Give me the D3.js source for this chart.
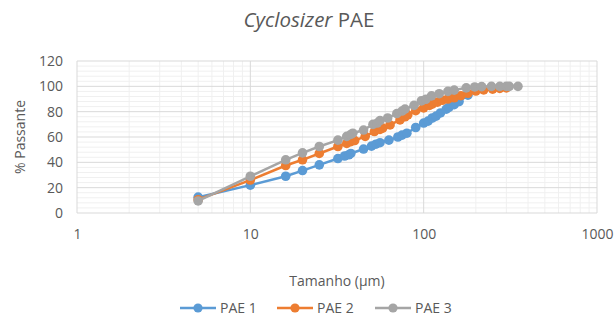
<!DOCTYPE html>
<html>
<head>
<meta charset="utf-8">
<script src="https://cdn.jsdelivr.net/npm/d3@7"></script>
<style>
  body { margin: 0; background: #fff; }
  text { font-family: "Open Sans", "Noto Sans", sans-serif; fill: #595959; }
</style>
</head>
<body>
<svg id="chart"></svg>
<script>
// Series data (size in µm, % passing)
const pae1Size = [5, 10, 16, 20, 25, 32, 35, 37, 38, 45, 50, 53, 56, 63, 71, 75, 80, 90, 100, 106, 112, 118, 125, 135, 140, 150, 160, 180];
const pae1Pass = [12.5, 22, 29, 33.5, 38, 43, 45, 46, 47, 50.5, 52.8, 54.3, 55.5, 57.5, 60, 61.5, 63, 67.5, 71, 72.5, 75, 76.5, 79, 82, 83.5, 85.5, 88, 93];

const pae2Size = [5, 10, 16, 20, 25, 32, 36, 38, 40, 46, 52, 56, 58, 64, 73, 78, 81, 90, 100, 108, 112, 120, 128, 138, 150, 164, 180, 200, 222, 250, 275, 300];
const pae2Pass = [10.5, 26, 37.5, 42, 47, 52.5, 55, 56.3, 57.2, 60.5, 64.3, 66, 67, 69.5, 73.5, 76, 77.5, 80.8, 83, 85, 86, 87.5, 89, 90, 91, 92.6, 94.5, 96.3, 97.2, 97.8, 98.4, 98.8];

const pae3Size = [5, 10, 16, 20, 25, 32, 36, 38, 39, 45, 51, 54, 56, 62, 70, 75, 78, 88, 97, 103, 111, 123, 138, 150, 176, 197, 216, 246, 275, 300, 312, 350];
const pae3Pass = [9.5, 29, 42, 47.5, 52.5, 57.5, 60.5, 62, 63, 65.5, 70, 71, 73, 75, 78.5, 80.5, 82, 85, 88.5, 89.8, 92.5, 94.2, 96, 97, 98.8, 99.5, 99.8, 100, 100, 100, 100, 100];

const seriesNames = ["PAE 1", "PAE 2", "PAE 3"];
const seriesColors = ["#5B9BD5", "#ED7D31", "#A5A5A5"];
const xTicks = [1, 10, 100, 1000];
const yTicks = [0, 20, 40, 60, 80, 100, 120];

const series = [
  { name: seriesNames[0], color: seriesColors[0], pts: pae1Size.map((s, i) => [s, pae1Pass[i]]) },
  { name: seriesNames[1], color: seriesColors[1], pts: pae2Size.map((s, i) => [s, pae2Pass[i]]) },
  { name: seriesNames[2], color: seriesColors[2], pts: pae3Size.map((s, i) => [s, pae3Pass[i]]) }
];

const W = 616, H = 318;
const plot = { left: 77, right: 597, top: 61, bottom: 213 };

const svg = d3.select("#chart").attr("width", W).attr("height", H);

const x = d3.scaleLog().domain([1, 1000]).range([plot.left, plot.right]);
const y = d3.scaleLinear().domain([0, 120]).range([plot.bottom, plot.top]);

// minor gridlines
const minorX = [];
for (let d = 1; d < 1000; d *= 10) for (let k = 2; k <= 9; k++) minorX.push(d * k);
const minorY = d3.range(0, 121, 4).filter(v => v % 20 !== 0);

const grid = svg.append("g");
grid.selectAll("line.mx").data(minorX).enter().append("line")
  .attr("x1", d => x(d)).attr("x2", d => x(d))
  .attr("y1", plot.top).attr("y2", plot.bottom)
  .attr("stroke", "#f0f0f0").attr("stroke-width", 1);
grid.selectAll("line.my").data(minorY).enter().append("line")
  .attr("x1", plot.left).attr("x2", plot.right)
  .attr("y1", d => y(d)).attr("y2", d => y(d))
  .attr("stroke", "#f0f0f0").attr("stroke-width", 1);
grid.selectAll("line.vx").data(xTicks).enter().append("line")
  .attr("x1", d => x(d)).attr("x2", d => x(d))
  .attr("y1", plot.top).attr("y2", plot.bottom)
  .attr("stroke", "#d9d9d9").attr("stroke-width", 1);
grid.selectAll("line.hy").data(yTicks).enter().append("line")
  .attr("x1", plot.left).attr("x2", plot.right)
  .attr("y1", d => y(d)).attr("y2", d => y(d))
  .attr("stroke", "#d9d9d9").attr("stroke-width", 1);

// axes (labels only)
const yAxis = svg.append("g")
  .attr("transform", `translate(${plot.left},0)`)
  .call(d3.axisLeft(y).tickValues(yTicks).tickSize(0).tickPadding(14));
yAxis.select(".domain").remove();
yAxis.selectAll("text").style("font-size", "14px").attr("fill", "#595959");

const xAxis = svg.append("g")
  .attr("transform", `translate(0,${plot.bottom})`)
  .call(d3.axisBottom(x).tickValues(xTicks).tickFormat(d3.format("d")).tickSize(0).tickPadding(16));
xAxis.select(".domain").remove();
xAxis.selectAll("text").style("font-size", "14px").attr("fill", "#595959");

// series
const line = d3.line().x(d => x(d[0])).y(d => y(d[1]));
series.forEach(s => {
  const g = svg.append("g");
  g.append("path").datum(s.pts)
    .attr("d", line).attr("fill", "none")
    .attr("stroke", s.color).attr("stroke-width", 2.5)
    .attr("stroke-linejoin", "round");
  g.selectAll("circle").data(s.pts).enter().append("circle")
    .attr("cx", d => x(d[0])).attr("cy", d => y(d[1]))
    .attr("r", 4.8).attr("fill", s.color);
});

// titles
const title = svg.append("text")
  .attr("x", 309).attr("y", 27)
  .attr("text-anchor", "middle")
  .style("font-size", "20.5px");
title.append("tspan").style("font-style", "italic").text("Cyclosizer");
title.append("tspan").text(" PAE");

svg.append("text")
  .attr("x", (plot.left + plot.right) / 2).attr("y", 286)
  .attr("text-anchor", "middle")
  .style("font-size", "14px")
  .text("Tamanho (µm)");

svg.append("text")
  .attr("transform", `translate(25,${(plot.top + plot.bottom) / 2}) rotate(-90)`)
  .attr("text-anchor", "middle")
  .style("font-size", "14px")
  .text("% Passante");

// legend
const legendX = [180, 277, 375];
const legend = svg.append("g");
series.forEach((s, i) => {
  const lg = legend.append("g").attr("transform", `translate(${legendX[i]},308)`);
  lg.append("line").attr("x1", 0).attr("x2", 36).attr("y1", 0).attr("y2", 0)
    .attr("stroke", s.color).attr("stroke-width", 2.5);
  lg.append("circle").attr("cx", 18).attr("cy", 0).attr("r", 4.6).attr("fill", s.color);
  lg.append("text").attr("x", 40).attr("y", 5).style("font-size", "14px").text(s.name);
});
</script>
</body>
</html>
